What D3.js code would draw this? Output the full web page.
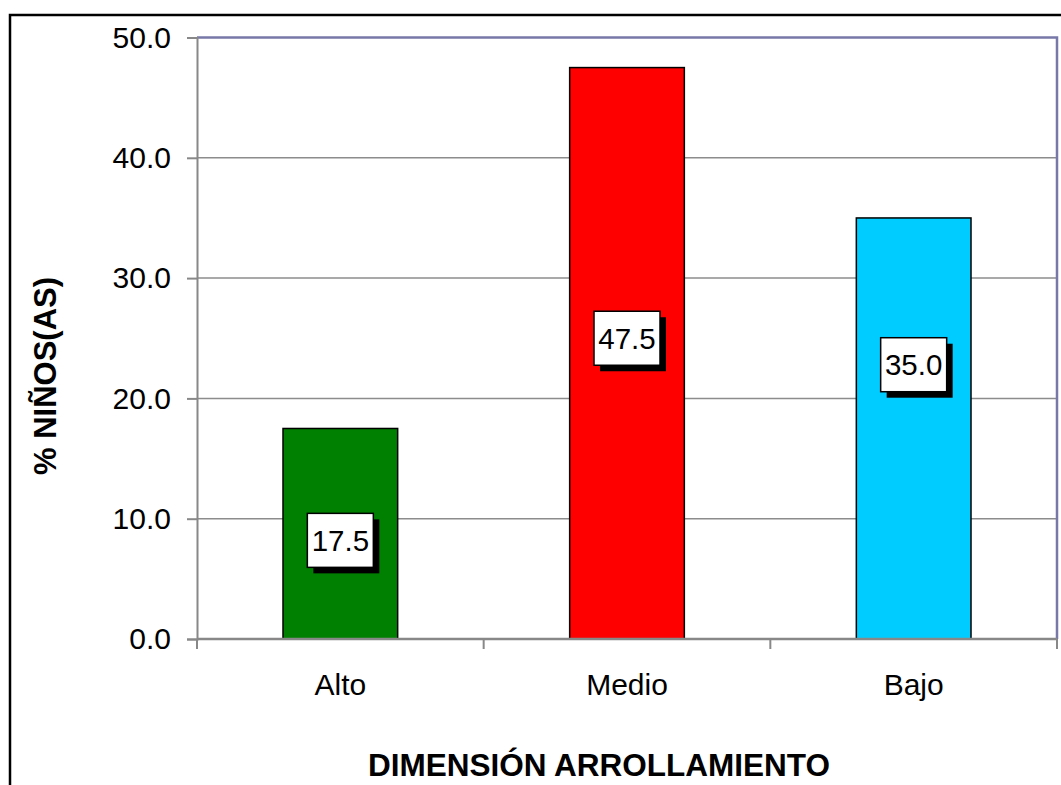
<!DOCTYPE html>
<html><head><meta charset="utf-8">
<script src="https://cdn.jsdelivr.net/npm/d3@7"></script>
<style>body{margin:0;background:#fff}svg{display:block}text{font-family:Arial,"Liberation Sans",sans-serif}</style>
</head><body><svg id="c" width="1061" height="785"></svg>
<script>
const categories = ["Alto", "Medio", "Bajo"];
const values = [17.5, 47.5, 35.0];
const barColors = ["#008000", "#FF0000", "#00CCFF"];
const labelAt = [8.2, 25.0, 22.8]; // label box centre, in data units
const yTicks = [0, 10, 20, 30, 40, 50];
const yTitle = "% NIÑOS(AS)";
const xTitle = "DIMENSIÓN ARROLLAMIENTO";

const svg = d3.select("#c");
const m = {left:197, top:37.5, right:1057, bottom:639};

// outer chart border
svg.append("rect").attr("x",10).attr("y",15).attr("width",1100).attr("height",820)
  .attr("fill","none").attr("stroke","#000").attr("stroke-width",2.5);

const x = d3.scaleBand().domain(categories).range([m.left, m.right]).paddingInner(0.6).paddingOuter(0.3);
const y = d3.scaleLinear().domain([0,50]).range([m.bottom, m.top]);

// gridlines
svg.append("g").selectAll("line").data(yTicks.slice(1,-1)).join("line")
  .attr("x1",m.left).attr("x2",m.right).attr("y1",d=>y(d)).attr("y2",d=>y(d))
  .attr("stroke","#8c8c8c").attr("stroke-width",1.5);

// plot border top/right
svg.append("path").attr("d",`M${m.left},${y(50)}H${m.right}V${m.bottom}`)
  .attr("fill","none").attr("stroke","#7878a8").attr("stroke-width",2.5);

// bars
svg.append("g").selectAll("rect").data(values).join("rect")
  .attr("x",(d,i)=>x(categories[i])).attr("width",x.bandwidth())
  .attr("y",d=>y(d)).attr("height",d=>y(0)-y(d))
  .attr("fill",(d,i)=>barColors[i]).attr("stroke","#000").attr("stroke-width",1.5);

// y axis
const ya = svg.append("g").attr("transform",`translate(${m.left},0)`)
  .call(d3.axisLeft(y).tickValues(yTicks).tickFormat(d3.format(".1f")).tickSize(10).tickPadding(16));
ya.select(".domain").attr("stroke","#888").attr("stroke-width",2);
ya.selectAll(".tick line").attr("stroke","#888").attr("stroke-width",2);
ya.selectAll(".tick text").attr("font-size",30).attr("fill","#000")
  .attr("font-family","Arial, 'Liberation Sans', sans-serif");

// x axis
const xa = svg.append("g").attr("transform",`translate(0,${m.bottom})`);
xa.append("line").attr("x1",m.left).attr("x2",m.right).attr("stroke","#888").attr("stroke-width",2.5);
const bounds = d3.range(categories.length+1).map(i=>m.left+i*(m.right-m.left)/categories.length);
xa.selectAll(".tk").data(bounds).join("line").attr("class","tk")
  .attr("x1",d=>d).attr("x2",d=>d).attr("y1",0).attr("y2",10).attr("stroke","#888").attr("stroke-width",2);
xa.selectAll(".lb").data(categories).join("text").attr("class","lb")
  .attr("x",d=>x(d)+x.bandwidth()/2).attr("y",56).attr("text-anchor","middle")
  .attr("font-size",30).text(d=>d);

// data labels
const lw = 66, lh = 54, sh = 6;
const lg = svg.append("g").selectAll("g").data(values).join("g")
  .attr("transform",(d,i)=>`translate(${x(categories[i])+x.bandwidth()/2},${y(labelAt[i])})`);
lg.append("rect").attr("x",-lw/2+sh).attr("y",-lh/2+sh).attr("width",lw).attr("height",lh).attr("fill","#000");
lg.append("rect").attr("x",-lw/2).attr("y",-lh/2).attr("width",lw).attr("height",lh)
  .attr("fill","#fff").attr("stroke","#000").attr("stroke-width",1.5);
lg.append("text").attr("y",10.5).attr("text-anchor","middle").attr("font-size",29.5).text(d=>d3.format(".1f")(d));

// titles
svg.append("text").attr("transform","translate(56,376) rotate(-90)").attr("text-anchor","middle")
  .attr("font-size",31).attr("font-weight","bold").text(yTitle);
svg.append("text").attr("x",599).attr("y",776).attr("text-anchor","middle")
  .attr("font-size",31.5).attr("font-weight","bold").text(xTitle);
</script></body></html>
